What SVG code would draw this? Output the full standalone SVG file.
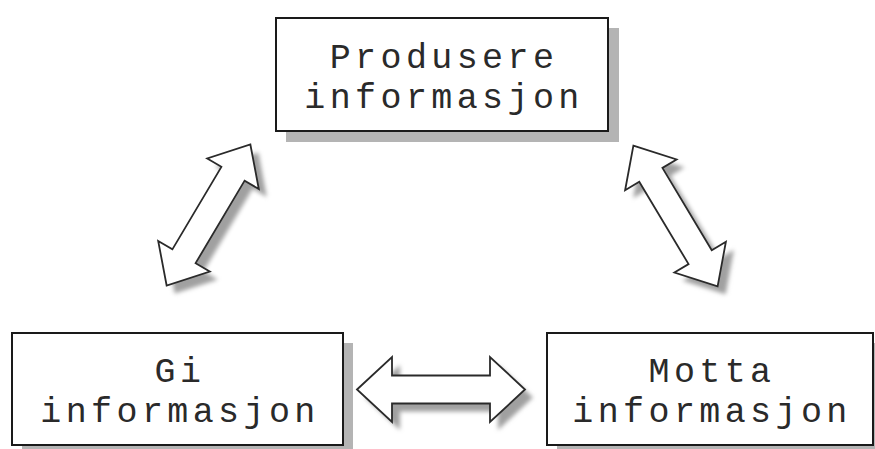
<svg xmlns="http://www.w3.org/2000/svg" xmlns:xlink="http://www.w3.org/1999/xlink" width="875" height="449" viewBox="0 0 875 449">
  <style>
    .box { fill: #ffffff; stroke: #1a1a1a; stroke-width: 2; }
    .shadow { fill: #b4b4b4; }
    .label { font-family: "Liberation Mono", "Courier New", monospace; font-size: 35px; letter-spacing: 4.4px; fill: #2a2a2a; text-anchor: middle; }
    .arrow { fill: #ffffff; stroke: #2a2a2a; stroke-width: 1.8; stroke-linejoin: miter; }
    .arrow-shadow { fill: #a0a0a0; }
  </style>
  <defs>
    <filter id="soft" x="-20%" y="-20%" width="140%" height="140%">
      <feGaussianBlur stdDeviation="2"/>
    </filter>
    <filter id="softer" x="-5%" y="-5%" width="110%" height="110%">
      <feGaussianBlur stdDeviation="0.7"/>
    </filter>
    <!-- double-headed block arrow, horizontal, centred on the origin -->
    <polygon id="arrowH" points="-84,0 -49,-32.5 -49,-14 49,-14 49,-32.5 84,0 49,32.5 49,14 -49,14 -49,32.5"/>
    <!-- slightly shorter variant for the slanted links -->
    <polygon id="arrowD" points="-82,0 -48,-30 -48,-13.5 48,-13.5 48,-30 82,0 48,30 48,13.5 -48,13.5 -48,30"/>
  </defs>

  <rect width="875" height="449" fill="#ffffff"/>

  <g id="connectors">
    <!-- Produsere <-> Gi -->
    <g id="link-produsere-gi">
      <use xlink:href="#arrowD" class="arrow-shadow" filter="url(#soft)" transform="translate(216.5,223) rotate(-59.3)"/>
      <use xlink:href="#arrowD" class="arrow" transform="translate(208.5,215) rotate(-59.3)"/>
    </g>
    <!-- Produsere <-> Motta -->
    <g id="link-produsere-motta">
      <use xlink:href="#arrowD" class="arrow-shadow" filter="url(#soft)" transform="translate(683.5,224) rotate(59.1)"/>
      <use xlink:href="#arrowD" class="arrow" transform="translate(675.5,216) rotate(59.1)"/>
    </g>
    <!-- Gi <-> Motta -->
    <g id="link-gi-motta">
      <use xlink:href="#arrowH" class="arrow-shadow" filter="url(#soft)" transform="translate(449,397.5)"/>
      <use xlink:href="#arrowH" class="arrow" transform="translate(441,389.5)"/>
    </g>
  </g>

  <g id="node-produsere">
    <rect class="shadow" x="286" y="28" width="333" height="114" filter="url(#softer)"/>
    <rect class="box" x="276" y="18" width="332" height="113"/>
    <text class="label" x="444" y="68">Produsere</text>
    <text class="label" x="444" y="108">informasjon</text>
  </g>

  <g id="node-gi">
    <rect class="shadow" x="22" y="343" width="331" height="112" filter="url(#softer)"/>
    <rect class="box" x="12" y="333" width="331" height="112"/>
    <text class="label" x="180" y="382">Gi</text>
    <text class="label" x="180" y="422">informasjon</text>
  </g>

  <g id="node-motta">
    <rect class="shadow" x="557" y="343" width="330" height="112" filter="url(#softer)"/>
    <rect class="box" x="547" y="333" width="326" height="112"/>
    <text class="label" x="712" y="382">Motta</text>
    <text class="label" x="712" y="422">informasjon</text>
  </g>
</svg>
